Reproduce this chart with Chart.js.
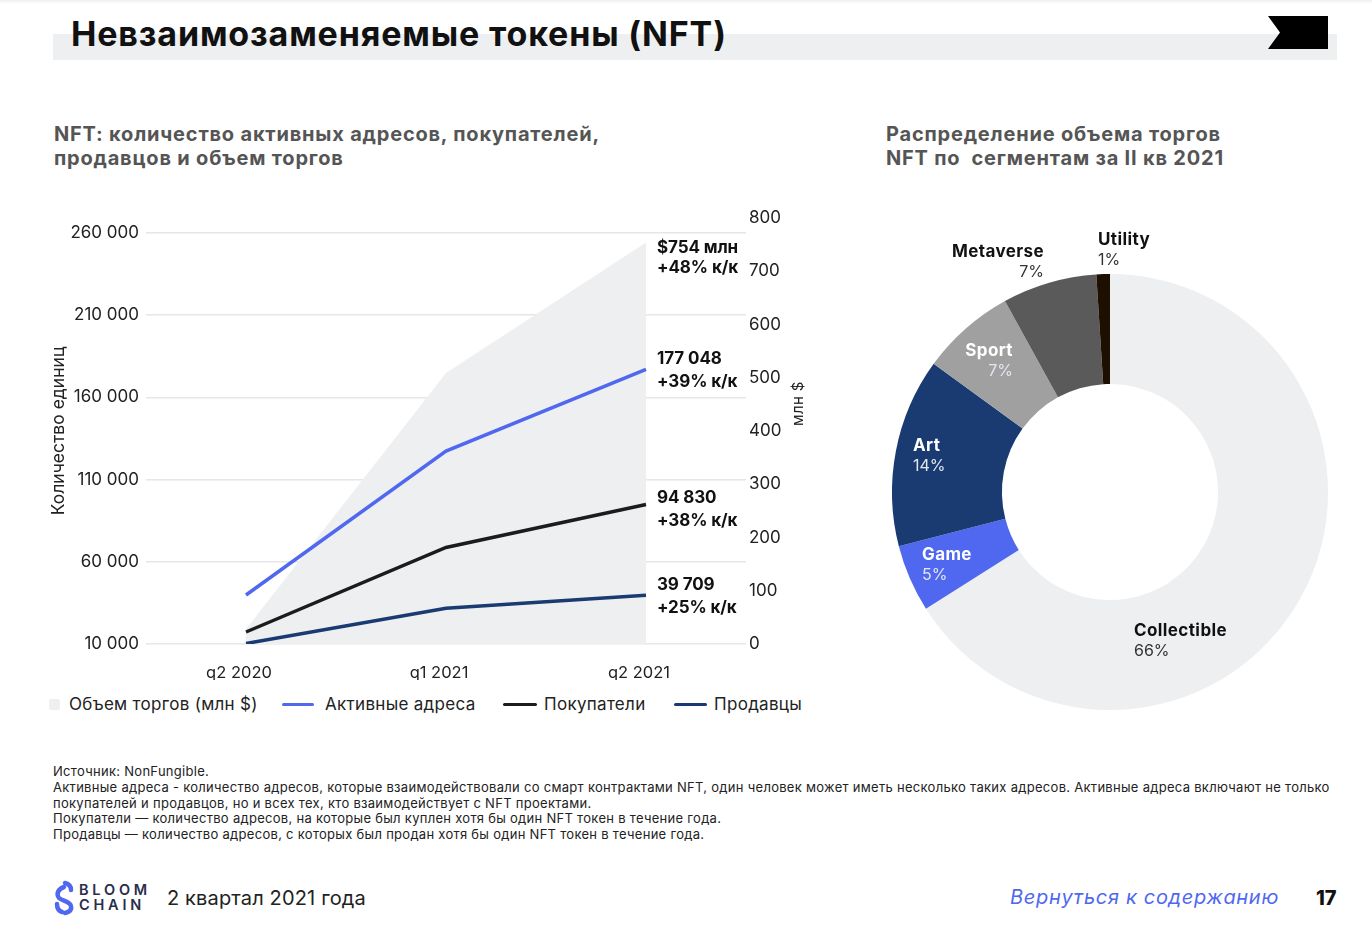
<!DOCTYPE html>
<html lang="ru">
<head>
<meta charset="utf-8">
<title>NFT</title>
<script src="https://cdn.jsdelivr.net/npm/chart.js@4"></script>
<style>
  html, body { margin: 0; padding: 0; background: #fff; }
  body { position: relative; width: 1372px; height: 952px; overflow: hidden; font-family: Inter, sans-serif; color: #1c1c1c; }
  .abs { position: absolute; white-space: nowrap; }
  canvas { position: absolute; }
  .topshade { left: 0; top: 0; width: 1372px; height: 4px; background: linear-gradient(#efefef, #fff); }
  .band { left: 53px; top: 34px; width: 1284px; height: 26px; background: #eeeff1; }
  .flag { left: 1268px; top: 16px; width: 60px; height: 33px; background: #000; clip-path: polygon(0 0, 100% 0, 100% 100%, 0 100%, 12px 50%); }
  .h1 { left: 71px; top: 12px; font-size: 34px; line-height: 44px; font-weight: 700; color: #111; letter-spacing: 0.85px; }
  .h2 { font-size: 20px; line-height: 24px; font-weight: 700; color: #555; letter-spacing: 0.8px; }
  .val { left: 657px; font-size: 17px; line-height: 20px; font-weight: 700; color: #111; letter-spacing: -0.1px; }
  .pie-name { font-size: 17px; font-weight: 700; line-height: 20px; color: #111; letter-spacing: 0.4px; }
  .pie-pct { font-size: 16px; line-height: 20px; color: #333; }
  .light { color: #fff; }
  .light.pie-pct { color: #e4e6ee; }
  .legend { font-size: 17px; line-height: 20px; top: 694px; color: #222; letter-spacing: 0.3px; }
  .mark { height: 3px; top: 703px; border-radius: 2px; }
  .note { left: 53px; font-size: 13px; line-height: 16px; color: #222; letter-spacing: 0.29px; }
  .foot { font-size: 20px; line-height: 26px; }
</style>
</head>
<body>
<div class="abs topshade"></div>
<div class="abs band"></div>
<div class="abs flag"></div>
<div class="abs h1">Невзаимозаменяемые токены (NFT)</div>

<div class="abs h2" style="left:54px;top:122px">NFT: количество активных адресов, покупателей,<br>продавцов и объем торгов</div>
<div class="abs h2" style="left:886px;top:122px">Распределение объема торгов<br>NFT по&nbsp; сегментам за II кв 2021</div>

<canvas id="lineChart" width="780" height="480" style="left:40px;top:200px"></canvas>
<canvas id="pieChart" width="460" height="460" style="left:880px;top:262px"></canvas>

<div class="abs" style="left:778px;top:396px;width:40px;text-align:center;font-size:15px;line-height:20px;letter-spacing:0.4px;transform:rotate(-90deg)">млн $</div>

<div id="valueLabels"></div>
<div id="legend"></div>
<div id="pieLabels"></div>

<div class="abs note" style="top:763px">Источник: NonFungible.</div>
<div class="abs note" style="top:779px">Активные адреса - количество адресов, которые взаимодействовали со смарт контрактами NFT, один человек может иметь несколько таких адресов. Активные адреса включают не только</div>
<div class="abs note" style="top:795px">покупателей и продавцов, но и всех тех, кто взаимодействует с NFT проектами.</div>
<div class="abs note" style="top:810px">Покупатели — количество адресов, на которые был куплен хотя бы один NFT токен в течение года.</div>
<div class="abs note" style="top:826px">Продавцы — количество адресов, с которых был продан хотя бы один NFT токен в течение года.</div>

<svg class="abs" style="left:48px;top:876px" width="28" height="44" viewBox="0 0 28 44" fill="none" stroke="#4f68ef" stroke-width="4.5" stroke-linecap="round">
  <path d="M17 7 C21 8 23 11 23 14"/>
  <path d="M16 11 C10 13 8 18 11 22 C14 25 22 25 23 30 C24 34 21 36 17 37"/>
  <path d="M9 28 C9 32 11 35 14 36"/>
</svg>
<div class="abs" style="left:79px;top:882px;font-size:14.5px;line-height:15px;font-weight:600;letter-spacing:3.8px;color:#2a2d4a">BLOOM<br>CHAIN</div>
<div class="abs foot" style="left:167px;top:885px;color:#222;letter-spacing:0.15px">2 квартал 2021 года</div>
<div class="abs foot" style="left:1010px;top:884px;color:#4f68ef;font-style:italic;letter-spacing:0.68px">Вернуться к содержанию</div>
<div class="abs foot" style="left:1316px;top:885px;font-weight:800;color:#111">17</div>

<script>
const quarters = ['q2 2020', 'q1 2021', 'q2 2021'];
const volume = [28, 509, 754];
const activeAddresses = [39800, 127372, 177048];
const buyers = [17300, 68717, 94830];
const sellers = [10300, 31767, 39709];

const leftTicks = [10000, 60000, 110000, 160000, 210000, 260000];
const rightTicks = [0, 100, 200, 300, 400, 500, 600, 700, 800];

const segments = ['Collectible', 'Game', 'Art', 'Sport', 'Metaverse', 'Utility'];
const shares = [66, 5, 14, 7, 7, 1];
const segmentColors = ['#eeeff1', '#4f68ef', '#1a3a72', '#a0a0a0', '#5a5a5a', '#1e1000'];

const seriesNames = ['Объем торгов (млн $)', 'Активные адреса', 'Покупатели', 'Продавцы'];
const lineColors = ['#4f68ef', '#1c1c1c', '#1a3a72'];

const formatThousands = v => String(v).replace(/\B(?=(\d{3})+$)/g, ' ');

new Chart(document.getElementById('lineChart'), {
  type: 'line',
  data: {
    labels: quarters,
    datasets: [
      { label: seriesNames[1], data: activeAddresses, borderColor: lineColors[0], yAxisID: 'y', order: 1 },
      { label: seriesNames[2], data: buyers, borderColor: lineColors[1], yAxisID: 'y', order: 2 },
      { label: seriesNames[3], data: sellers, borderColor: lineColors[2], yAxisID: 'y', order: 3 },
      { label: seriesNames[0], data: volume, borderWidth: 0, backgroundColor: '#eeeff1', fill: 'origin', yAxisID: 'y2', order: 4 },
    ],
  },
  options: {
    responsive: false,
    animation: false,
    layout: { padding: { top: 18 } },
    elements: { point: { radius: 0 }, line: { borderWidth: 3.5, tension: 0 } },
    plugins: { legend: { display: false }, tooltip: { enabled: false } },
    scales: {
      x: {
        offset: true,
        grid: { display: false },
        border: { display: false },
        ticks: { color: '#222', font: { family: 'Inter', size: 16.5 }, labelOffset: -7, padding: 11, maxRotation: 0 },
        afterFit: s => { s.height = 36; },
      },
      y: {
        position: 'left',
        min: 10000,
        max: 269100,
        afterBuildTicks: s => { s.ticks = leftTicks.map(value => ({ value })); },
        grid: { color: '#e6e6e6', lineWidth: 1.5, drawTicks: false },
        border: { display: false },
        ticks: { color: '#222', font: { family: 'Inter', size: 17 }, padding: 7, callback: formatThousands },
        title: { display: true, text: 'Количество единиц', color: '#222', font: { family: 'Inter', size: 17.5 }, padding: { top: 8, bottom: 0 } },
        afterFit: s => { s.width = 106; },
      },
      y2: {
        position: 'right',
        min: 0,
        max: 800,
        afterBuildTicks: s => { s.ticks = rightTicks.map(value => ({ value })); },
        grid: { display: false, drawTicks: false },
        border: { display: false },
        ticks: { color: '#222', font: { family: 'Inter', size: 17 }, padding: 3 },
        afterFit: s => { s.width = 74; },
      },
    },
  },
});

new Chart(document.getElementById('pieChart'), {
  type: 'doughnut',
  data: {
    labels: segments,
    datasets: [{ data: shares, backgroundColor: segmentColors, borderWidth: 0, radius: 218, cutout: 114 }],
  },
  options: {
    responsive: false,
    animation: false,
    plugins: { legend: { display: false }, tooltip: { enabled: false } },
  },
});

// value callouts next to the last points
const valueText = [
  ['$754 млн', 237], ['+48% к/к', 257],
  ['177 048', 348], ['+39% к/к', 371],
  ['94 830', 487], ['+38% к/к', 510],
  ['39 709', 574], ['+25% к/к', 597],
];
document.getElementById('valueLabels').innerHTML = valueText
  .map(([text, top]) => `<div class="abs val" style="top:${top}px">${text}</div>`).join('');

// legend
const legendMarks = [
  ['left:49px;top:699px;width:11px;height:11px;background:#eeeff1', 69],
  [`left:282px;width:32px;background:${lineColors[0]}`, 325],
  [`left:503px;width:34px;background:${lineColors[1]}`, 544],
  [`left:674px;width:33px;background:${lineColors[2]}`, 714],
];
document.getElementById('legend').innerHTML = legendMarks.map(([style, textX], i) => `
  <div class="abs mark" style="${style}"></div>
  <div class="abs legend" style="left:${textX}px">${seriesNames[i]}</div>
`).join('');

// donut labels, right edge or left edge as in the layout
const pieLabelPos = [
  ['left:1134px', 620, ''],
  ['left:922px', 544, 'light'],
  ['left:913px', 435, 'light'],
  ['right:359px;text-align:right', 340, 'light'],
  ['right:328px;text-align:right', 241, ''],
  ['left:1098px', 229, ''],
];
document.getElementById('pieLabels').innerHTML = segments.map((name, i) => {
  const [pos, top, cls] = pieLabelPos[i];
  return `<div class="abs pie-name ${cls}" style="${pos};top:${top}px">${name}</div>
    <div class="abs pie-pct ${cls}" style="${pos};top:${top + 20}px">${shares[i]}%</div>`;
}).join('');
</script>
</body>
</html>
